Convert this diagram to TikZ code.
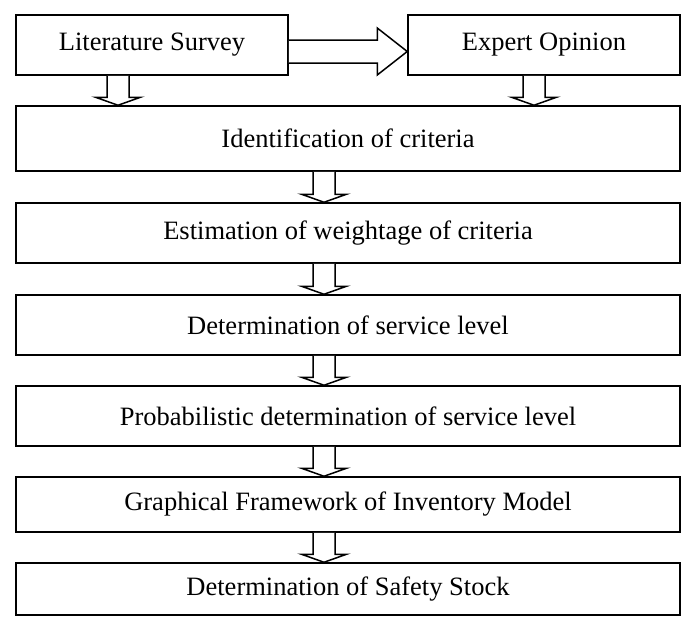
\documentclass[tikz,border=0pt]{standalone}
\usepackage{fontspec}
\setmainfont{Liberation Serif}
\usetikzlibrary{calc}

\tikzset{
  stage/.style={draw, line width=1.5pt, inner sep=0pt, anchor=center,
    font=\fontsize{26.5}{30}\selectfont},
  hollow/.style={draw, fill=white, line width=1.5pt, line join=miter},
}

% hollow block arrow pointing down: from node, to node, centre x
\newcommand\blockdown[3]{%
  \draw[hollow] let \p1=(#1.south), \p2=(#2.north) in
    ({#3-11},\y1) -- ({#3-11},{\y2+8pt}) -- ({#3-22.5},{\y2+8pt}) --
    (#3,\y2) -- ({#3+22.5},{\y2+8pt}) -- ({#3+11},{\y2+8pt}) --
    ({#3+11},\y1);}

\begin{document}
\begin{tikzpicture}[x=1pt, y=-1pt]
\useasboundingbox (0,0) rectangle (684,616);

\node[stage, minimum width=272pt, minimum height=60pt] (lit) at (152,45) {Literature Survey};
\node[stage, minimum width=272pt, minimum height=60pt] (exp) at (544,45) {Expert Opinion};
\node[stage, minimum width=664pt, minimum height=65pt] (ident) at (348,138.5) {Identification of criteria};
\node[stage, minimum width=664pt, minimum height=60pt] (weight) at (348,233) {Estimation of weightage of criteria};
\node[stage, minimum width=664pt, minimum height=60pt] (serv) at (348,325) {Determination of service level};
\node[stage, minimum width=664pt, minimum height=60pt] (prob) at (348,416) {Probabilistic determination of service level};
\node[stage, minimum width=664pt, minimum height=55pt] (graph) at (348,504.5) {Graphical Framework of Inventory Model};
\node[stage, minimum width=664pt, minimum height=52pt] (safety) at (348,589) {Determination of Safety Stock};

% sideways block arrow between the two sources
\draw[hollow] let \p1=(lit.east), \p2=(exp.west) in
  (\x1,40) -- ({\x2-30pt},40) -- ({\x2-30pt},28) -- (\x2,51.5) --
  ({\x2-30pt},75) -- ({\x2-30pt},63) -- (\x1,63);

% block arrows down the chain
\blockdown{lit}{ident}{118}
\blockdown{exp}{ident}{534}
\blockdown{ident}{weight}{324}
\blockdown{weight}{serv}{324}
\blockdown{serv}{prob}{324}
\blockdown{prob}{graph}{324}
\blockdown{graph}{safety}{324}
\end{tikzpicture}
\end{document}
